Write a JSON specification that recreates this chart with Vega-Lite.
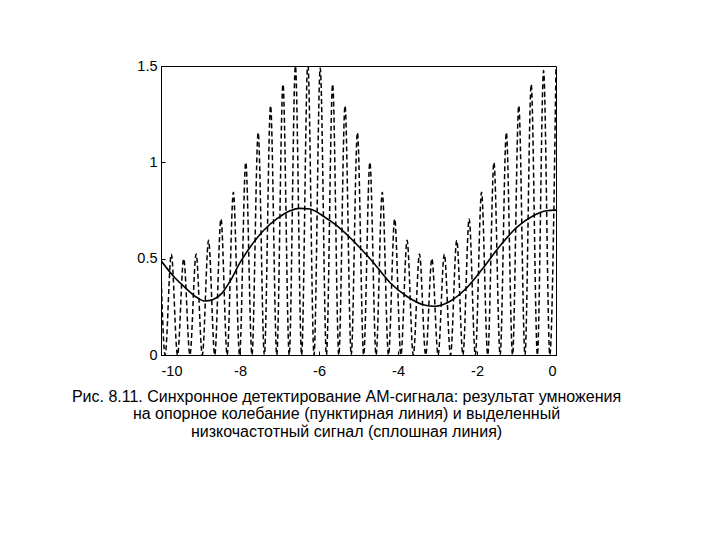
{
  "$schema": "https://vega.github.io/schema/vega-lite/v6.json",
  "width": 395,
  "height": 289,
  "autosize": {"type": "none"},
  "padding": {"left": 161, "top": 66, "right": 164, "bottom": 185},
  "background": "white",
  "config": {
    "view": {"stroke": "black", "strokeWidth": 1},
    "font": "Liberation Sans",
    "axis": {
      "grid": false,
      "domainColor": "black",
      "tickColor": "black",
      "labelColor": "black",
      "labelFontSize": 14.5,
      "labelFont": "Liberation Sans",
      "tickSize": -4,
      "title": null
    }
  },
  "title": {
    "text": [
      "Рис. 8.11. Синхронное детектирование АМ-сигнала: результат умножения",
      "на опорное колебание (пунктирная линия) и выделенный",
      "низкочастотный сигнал (сплошная линия)"
    ],
    "orient": "bottom",
    "anchor": "middle",
    "fontSize": 16,
    "fontWeight": "normal",
    "lineHeight": 17.5,
    "offset": 11,
    "color": "black",
    "font": "Liberation Sans",
    "dx": -12
  },
  "datasets": {
    "product": [
      {"t": -10, "v": 0.43},
      {"t": -9.896, "v": 0},
      {"t": -9.739, "v": 0.524},
      {"t": -9.582, "v": 0},
      {"t": -9.425, "v": 0.5},
      {"t": -9.268, "v": 0},
      {"t": -9.111, "v": 0.524},
      {"t": -8.954, "v": 0},
      {"t": -8.796, "v": 0.595},
      {"t": -8.639, "v": 0},
      {"t": -8.482, "v": 0.706},
      {"t": -8.325, "v": 0},
      {"t": -8.168, "v": 0.845},
      {"t": -8.011, "v": 0},
      {"t": -7.854, "v": 1.0},
      {"t": -7.697, "v": 0},
      {"t": -7.54, "v": 1.155},
      {"t": -7.383, "v": 0},
      {"t": -7.226, "v": 1.294},
      {"t": -7.069, "v": 0},
      {"t": -6.912, "v": 1.405},
      {"t": -6.754, "v": 0},
      {"t": -6.597, "v": 1.5},
      {"t": -6.44, "v": 0},
      {"t": -6.283, "v": 1.52},
      {"t": -6.126, "v": 0},
      {"t": -5.969, "v": 1.49},
      {"t": -5.812, "v": 0},
      {"t": -5.655, "v": 1.405},
      {"t": -5.498, "v": 0},
      {"t": -5.341, "v": 1.294},
      {"t": -5.184, "v": 0},
      {"t": -5.027, "v": 1.155},
      {"t": -4.869, "v": 0},
      {"t": -4.712, "v": 1.0},
      {"t": -4.555, "v": 0},
      {"t": -4.398, "v": 0.845},
      {"t": -4.241, "v": 0},
      {"t": -4.084, "v": 0.706},
      {"t": -3.927, "v": 0},
      {"t": -3.77, "v": 0.595},
      {"t": -3.613, "v": 0},
      {"t": -3.456, "v": 0.524},
      {"t": -3.299, "v": 0},
      {"t": -3.142, "v": 0.5},
      {"t": -2.985, "v": 0},
      {"t": -2.827, "v": 0.524},
      {"t": -2.67, "v": 0},
      {"t": -2.513, "v": 0.595},
      {"t": -2.356, "v": 0},
      {"t": -2.199, "v": 0.706},
      {"t": -2.042, "v": 0},
      {"t": -1.885, "v": 0.845},
      {"t": -1.728, "v": 0},
      {"t": -1.571, "v": 1.0},
      {"t": -1.414, "v": 0},
      {"t": -1.257, "v": 1.155},
      {"t": -1.1, "v": 0},
      {"t": -0.942, "v": 1.294},
      {"t": -0.785, "v": 0},
      {"t": -0.628, "v": 1.405},
      {"t": -0.471, "v": 0},
      {"t": -0.314, "v": 1.476},
      {"t": -0.157, "v": 0},
      {"t": 0, "v": 1.5}
    ],
    "lowpass": [
      {"t": -10, "v": 0.49},
      {"t": -9.69, "v": 0.41},
      {"t": -9.39, "v": 0.35},
      {"t": -9.1, "v": 0.3},
      {"t": -8.89, "v": 0.28},
      {"t": -8.68, "v": 0.288},
      {"t": -8.46, "v": 0.32},
      {"t": -8.25, "v": 0.383},
      {"t": -8.0, "v": 0.479},
      {"t": -7.75, "v": 0.558},
      {"t": -7.41, "v": 0.645},
      {"t": -7.07, "v": 0.706},
      {"t": -6.73, "v": 0.749},
      {"t": -6.48, "v": 0.761},
      {"t": -6.23, "v": 0.758},
      {"t": -5.89, "v": 0.72},
      {"t": -5.55, "v": 0.671},
      {"t": -5.05, "v": 0.575},
      {"t": -4.62, "v": 0.479},
      {"t": -4.2, "v": 0.375},
      {"t": -3.78, "v": 0.305},
      {"t": -3.36, "v": 0.261},
      {"t": -3.06, "v": 0.253},
      {"t": -2.68, "v": 0.279},
      {"t": -2.26, "v": 0.349},
      {"t": -1.84, "v": 0.453},
      {"t": -1.42, "v": 0.566},
      {"t": -0.995, "v": 0.662},
      {"t": -0.575, "v": 0.723},
      {"t": -0.235, "v": 0.749},
      {"t": 0, "v": 0.752}
    ]
  },
  "layer": [
    {
      "data": {"name": "product"},
      "mark": {"type": "line", "color": "black", "strokeWidth": 1.5, "strokeDash": [5, 3], "interpolate": "monotone", "clip": true},
      "encoding": {
        "x": {"field": "t", "type": "quantitative", "scale": {"domain": [-10, 0], "nice": false},
              "axis": {"values": [-10, -8, -6, -4, -2, 0], "labelExpr": "'' + datum.value", "labelPadding": 13}},
        "y": {"field": "v", "type": "quantitative", "scale": {"domain": [0, 1.5], "nice": false},
              "axis": {"values": [0, 0.5, 1, 1.5], "labelExpr": "'' + datum.value", "labelPadding": 8}}
      }
    },
    {
      "data": {"name": "lowpass"},
      "mark": {"type": "line", "color": "black", "strokeWidth": 1.6, "interpolate": "monotone", "clip": true},
      "encoding": {
        "x": {"field": "t", "type": "quantitative"},
        "y": {"field": "v", "type": "quantitative"}
      }
    }
  ]
}
